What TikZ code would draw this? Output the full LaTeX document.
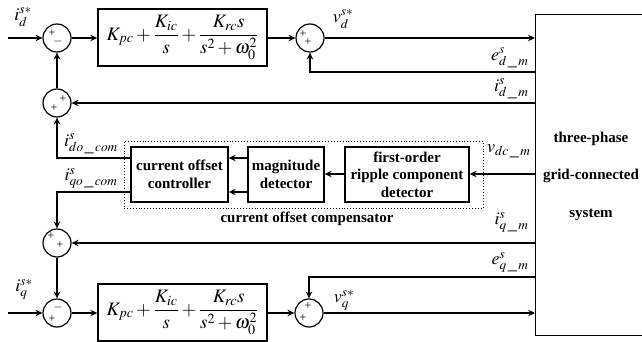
\documentclass[tikz,border=0pt]{standalone}
\usepackage{mathptmx}
\usepackage[no-math]{fontspec}
\setmainfont{Liberation Serif}
\usetikzlibrary{arrows.meta,calc}
\begin{document}
\begin{tikzpicture}[x=1pt,y=-1pt,
  line width=1.1pt,
  arr/.style={-{Stealth[length=7pt,width=6.5pt,inset=2.5pt]}},
  sumc/.style={circle,draw,line width=1.2pt,minimum size=28pt,inner sep=0pt},
  blk/.style={draw,line width=1.4pt,inner sep=0pt},
  sgn/.style={inner sep=0pt,font=\fontsize{12}{12}\selectfont},
  lbl/.style={inner sep=0pt,font=\fontsize{18}{20}\selectfont},
  tf/.style={blk,minimum width=169pt,minimum height=57pt,font=\fontsize{19}{21}\selectfont},
  btxt/.style={font=\fontsize{15}{17.5}\selectfont\bfseries,align=center,inner sep=0pt}]
\useasboundingbox (0,0) rectangle (642,342);
\clip (0,0) rectangle (642,342);

% level coordinates
\coordinate (ind) at (8,38);
\coordinate (inq) at (8,313);
\coordinate (yed) at (0,72);
\coordinate (ydo) at (0,158);
\coordinate (yrm) at (0,174);
\coordinate (yqo) at (0,192);
\coordinate (yeq) at (0,277);

% summing junctions
\node[sumc] (s1) at (57,38) {};
\node[sumc] (s2) at (57,103) {};
\node[sumc] (s3) at (57,243) {};
\node[sumc] (s4) at (57,313) {};
\node[sumc] (vd) at (310,38) {};
\node[sumc] (vq) at (309,313) {};

% signs
\node[sgn] (s1a) at ($(s1.center)+(-5,-5)$) {+};
\node[sgn] (s1b) at ($(s1.center)+(1,4)$) {$-$};
\node[sgn] (s2a) at ($(s2.center)+(6,-4)$) {+};
\node[sgn] (s2b) at ($(s2.center)+(-3,5)$) {+};
\node[sgn] (s3a) at ($(s3.center)+(-6,-7)$) {+};
\node[sgn] (s3b) at ($(s3.center)+(3,2)$) {+};
\node[sgn] (s4a) at ($(s4.center)+(1,-6)$) {$-$};
\node[sgn] (s4b) at ($(s4.center)+(-5,6)$) {+};
\node[sgn] (vda) at ($(vd.center)+(-7,-4)$) {+};
\node[sgn] (vdb) at ($(vd.center)+(-2,4)$) {+};
\node[sgn] (vqa) at ($(vq.center)+(-1,-7)$) {+};
\node[sgn] (vqb) at ($(vq.center)+(-6,5)$) {+};

% transfer function blocks
\node[tf] (tfd) at (182.5,37.5) {$\displaystyle K_{pc}+\frac{K_{ic}}{s}+\frac{K_{rc}s}{s^2+\omega_0^2}$};
\node[tf] (tfq) at (182.5,312.5) {$\displaystyle K_{pc}+\frac{K_{ic}}{s}+\frac{K_{rc}s}{s^2+\omega_0^2}$};

% system block
\node[blk,anchor=north west,minimum width=130pt,minimum height=321pt] (sys) at (535,14) {};
\node[btxt,font=\fontsize{15}{37.5}\selectfont\bfseries] (systxt) at (591,176) {three-phase\\grid-connected\\system};

% compensator
\node[draw,dotted,line width=0.9pt,minimum width=359pt,minimum height=67pt,inner sep=0pt] (comp) at (303.5,174.5) {};
\node[blk,btxt,minimum width=97pt,minimum height=55pt] (coc) at (179.5,174.5) {current offset\\controller};
\node[blk,btxt,minimum width=76pt,minimum height=55pt] (mag) at (286,174.5) {magnitude\\detector};
\node[blk,btxt,minimum width=124pt,minimum height=55pt] (rip) at (407,174.5) {first-order\\ripple component\\detector};
\node[btxt] (complbl) at (307,219) {current offset compensator};

% connectors top
\draw[arr] (ind) -- (s1);
\draw[arr] (s1.east) -- (s1.east -| tfd.west);
\draw[arr] (tfd.east |- vd) -- (vd);
\draw[arr] (vd) -- (vd -| sys.west);
\draw[arr] (sys.west |- yed) -- (vd |- yed) -- (vd);
\draw[arr] (sys.west |- s2) -- (s2);
\draw[arr] (s2) -- (s1);
\draw[arr] (coc.west |- ydo) -- (s2 |- ydo) -- (s2);
\draw[arr] (coc.west |- yqo) -- (s3 |- yqo) -- (s3);
\draw[arr] (mag.west |- ydo) -- (coc.east |- ydo);
\draw[arr] (mag.west |- yqo) -- (coc.east |- yqo);
\draw[arr] (rip.west |- yrm) -- (mag.east |- yrm);
\draw[arr] (sys.west |- yrm) -- (rip.east |- yrm);
% bottom
\draw[arr] (sys.west |- s3) -- (s3);
\draw[arr] (s3) -- (s4);
\draw[arr] (inq) -- (s4);
\draw[arr] (s4.east) -- (s4.east -| tfq.west);
\draw[arr] (tfq.east |- vq) -- (vq);
\draw[arr] (vq) -- (vq -| sys.west);
\draw[arr] (sys.west |- yeq) -- (vq |- yeq) -- (vq);

% labels
\node[lbl] (lid) at (23,17) {$i_d^{s*}$};
\node[lbl] (lvd) at (343,19) {$v_d^{s*}$};
\node[lbl,anchor=east] (led) at (529,58) {$e^s_{d\,\_\,m}$};
\node[lbl,anchor=east] (lidm) at (529,89) {$i^s_{d\,\_\,m}$};
\node[lbl] (ldo) at (91,144) {$i^s_{do\,\_\,com}$};
\node[lbl] (lqo) at (91,178) {$i^s_{qo\,\_\,com}$};
\node[lbl,anchor=east] (lvdc) at (531,151) {$v_{dc\,\_\,m}$};
\node[lbl,anchor=east] (liqm) at (529,222) {$i^s_{q\,\_\,m}$};
\node[lbl,anchor=east] (leq) at (529,262) {$e^s_{q\,\_\,m}$};
\node[lbl] (liq) at (24,289) {$i_q^{s*}$};
\node[lbl] (lvq) at (344,300) {$v_q^{s*}$};
\end{tikzpicture}
\end{document}
